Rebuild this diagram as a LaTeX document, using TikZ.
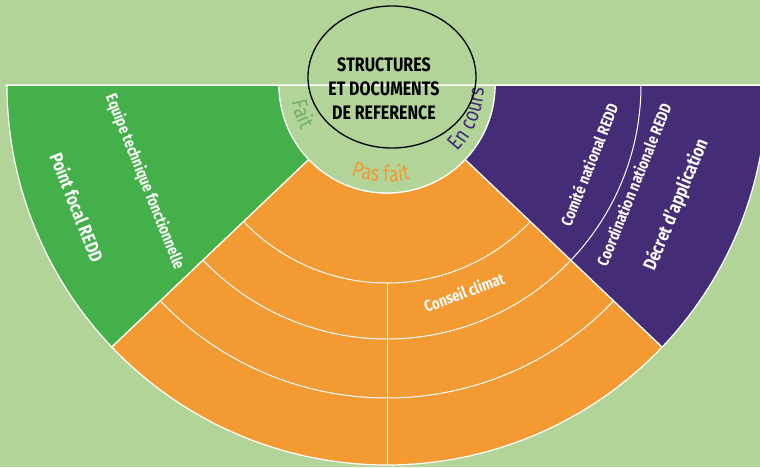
\documentclass[tikz,border=0pt]{standalone}
\usepackage{fontspec}
\setmainfont{Fira Sans}[FakeStretch=0.82, Kerning=Off]
\usetikzlibrary{decorations.text, shapes.geometric}
\definecolor{bggreen}{RGB}{178,212,152}
\definecolor{fitgreen}{RGB}{67,176,73}
\definecolor{fitorange}{RGB}{243,154,51}
\definecolor{fitpurple}{RGB}{68,44,118}
\definecolor{faitgreen}{RGB}{112,176,104}
\tikzstyle{sector} = [draw=white, line width=1.2pt]
\tikzstyle{sep} = [draw=white, line width=1pt]
\tikzstyle{ringtext} = [text=white, font=\fontsize{16}{18}\selectfont\bfseries, inner sep=0pt]
\tikzstyle{bigtext} = [text=white, font=\fontsize{18.5}{20}\selectfont\bfseries, inner sep=0pt]

\begin{document}
\begin{tikzpicture}[x=1pt, y=1pt]
        \fill[bggreen] (-387,-382) rectangle (373,85);
        \useasboundingbox (-387,-382) rectangle (373,85);
        \clip (-387,-382) rectangle (373,85);

        % three sectors
        \filldraw[sector, fill=fitgreen] (180:108) -- (180:380) arc[start angle=180, end angle=223.6, radius=380] -- (223.6:108) arc[start angle=223.6, end angle=180, radius=108] -- cycle;
        \filldraw[sector, fill=fitorange] (223.6:108) -- (223.6:380) arc[start angle=223.6, end angle=316.4, radius=380] -- (316.4:108) arc[start angle=316.4, end angle=223.6, radius=108] -- cycle;
        \filldraw[sector, fill=fitpurple] (316.4:108) -- (316.4:380) arc[start angle=316.4, end angle=360, radius=380] -- (0:108) arc[start angle=360, end angle=316.4, radius=108] -- cycle;
        \filldraw[sector, fill=bggreen] (180:108) arc[start angle=180, end angle=360, radius=108] -- cycle;
        \draw[sep] (-382,0) -- (373,0);

        % rings
        \foreach \r in {198,254,313}
            \draw[sep] (223.6:\r) arc[start angle=223.6, end angle=316.4, radius=\r];
        \draw[sep] (270:198) -- (270:380);
        \draw[sep] (316.4:254) arc[start angle=316.4, end angle=360, radius=254];

        % legend along the inner ring
        \path[decorate, decoration={text along path, text align=center,
            text={|\fontsize{22}{24}\selectfont\color{faitgreen}|Fait}}]
            (170:97) arc[start angle=170, end angle=228, radius=97];
        \path[decorate, decoration={text along path, text align=center,
            text={|\fontsize{22}{24}\selectfont\color{fitorange}|Pas fait}}]
            (230:97) arc[start angle=230, end angle=302, radius=97];
        \path[decorate, decoration={text along path, text align=center,
            text={|\fontsize{22}{24}\selectfont\color{fitpurple}|En cours}}]
            (-64:97) arc[start angle=-64, end angle=19, radius=97];

        % title
        \node (frame) [draw, line width=1.3pt, ellipse, minimum width=168, minimum height=142] at (5,8) {};
        \node (title) [align=center, font=\fontsize{19.5}{24}\selectfont\bfseries] at (-3,-4) {STRUCTURES\\ET DOCUMENTS\\DE REFERENCE};

        % sector texts
        \node (equipe) [ringtext, rotate=291.8] at (201.8:261) {Equipe technique fonctionnelle};
        \node (focal) [bigtext, rotate=291.5] at (201.5:333) {Point focal REDD};
        \node (conseil) [ringtext, rotate=20.4] at (-69.6:221) {Conseil climat};
        \node (comite) [ringtext, rotate=68.4] at (-21.6:217) {Comité national REDD};
        \node (coord) [ringtext, rotate=68] at (-22:266) {Coordination nationale REDD};
        \node (decret) [bigtext, rotate=67.5] at (-22.5:313) {Décret d'application};
\end{tikzpicture}
\end{document}
